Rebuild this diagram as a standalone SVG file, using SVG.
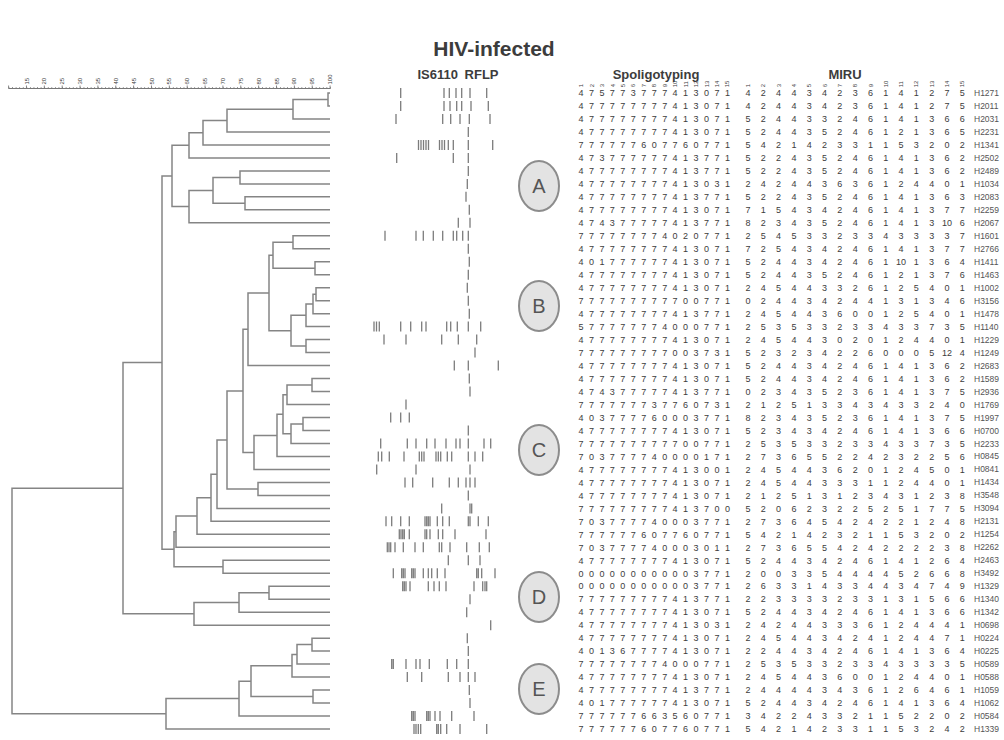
<svg xmlns="http://www.w3.org/2000/svg" width="1004" height="740" viewBox="0 0 1004 740">
<style>
text{font-family:"Liberation Sans",Arial,sans-serif;fill:#3c3c3c}
.title{font-size:21px;font-weight:bold;text-anchor:middle}
.hdr{font-size:13px;font-weight:bold;text-anchor:middle}
.sp{font-size:9px;letter-spacing:1.475px}
.mi{font-size:9px;letter-spacing:3.9px}
.id{font-size:8.5px;fill:#555}
.tick{font-size:6px;fill:#555}
.br{fill:none;stroke:#858585;stroke-width:1.5}
.band{fill:none;stroke:#7c7c7c;stroke-width:1.3}
.cl ellipse{fill:#e3e3e3;stroke:#8c8c8c;stroke-width:2}
.cl text{font-size:20px;text-anchor:middle;fill:#555}
</style>
<defs>
<pattern id="minor" x="8.5" y="0" width="3.572" height="20" patternUnits="userSpaceOnUse"><rect x="0" y="0" width="0.7" height="20" fill="#777"/></pattern>
<pattern id="major" x="8.1" y="0" width="17.86" height="20" patternUnits="userSpaceOnUse"><rect x="0" y="0" width="0.9" height="20" fill="#777"/></pattern>
</defs>
<rect width="1004" height="740" fill="#fff"/>
<text class="title" x="494" y="56">HIV-infected</text>
<g id="headers">
<text class="hdr" x="458" y="79" word-spacing="3">IS6110 RFLP</text>
<text class="hdr" x="656" y="79">Spoligotyping</text>
<text class="hdr" x="845" y="79">MIRU</text>
</g>
<g id="scale">
<line x1="8.5" y1="88.5" x2="330.5" y2="88.5" stroke="#777" stroke-width="1"/>
<rect x="8" y="87" width="323" height="1.5" fill="url(#minor)"/>
<rect x="8" y="85.5" width="323" height="3" fill="url(#major)"/>
<g class="tick">
<text transform="translate(28.5,84.5) rotate(-90)">15</text>
<text transform="translate(46.3,84.5) rotate(-90)">20</text>
<text transform="translate(64.2,84.5) rotate(-90)">25</text>
<text transform="translate(82.1,84.5) rotate(-90)">30</text>
<text transform="translate(99.9,84.5) rotate(-90)">35</text>
<text transform="translate(117.8,84.5) rotate(-90)">40</text>
<text transform="translate(135.6,84.5) rotate(-90)">45</text>
<text transform="translate(153.5,84.5) rotate(-90)">50</text>
<text transform="translate(171.4,84.5) rotate(-90)">55</text>
<text transform="translate(189.2,84.5) rotate(-90)">60</text>
<text transform="translate(207.1,84.5) rotate(-90)">65</text>
<text transform="translate(224.9,84.5) rotate(-90)">70</text>
<text transform="translate(242.8,84.5) rotate(-90)">75</text>
<text transform="translate(260.7,84.5) rotate(-90)">80</text>
<text transform="translate(278.5,84.5) rotate(-90)">85</text>
<text transform="translate(296.4,84.5) rotate(-90)">90</text>
<text transform="translate(314.2,84.5) rotate(-90)">95</text>
<text transform="translate(332.1,84.5) rotate(-90)">100</text>
</g>
</g>
<g id="col-numbers" class="tick">
<text transform="translate(583.1,87.3) rotate(-90)">1</text>
<text transform="translate(593.6,87.3) rotate(-90)">2</text>
<text transform="translate(604,87.3) rotate(-90)">3</text>
<text transform="translate(614.5,87.3) rotate(-90)">4</text>
<text transform="translate(624.9,87.3) rotate(-90)">5</text>
<text transform="translate(635.4,87.3) rotate(-90)">6</text>
<text transform="translate(645.8,87.3) rotate(-90)">7</text>
<text transform="translate(656.3,87.3) rotate(-90)">8</text>
<text transform="translate(666.7,87.3) rotate(-90)">9</text>
<text transform="translate(677.2,87.3) rotate(-90)">10</text>
<text transform="translate(687.6,87.3) rotate(-90)">11</text>
<text transform="translate(698.1,87.3) rotate(-90)">12</text>
<text transform="translate(708.5,87.3) rotate(-90)">13</text>
<text transform="translate(719,87.3) rotate(-90)">14</text>
<text transform="translate(729.4,87.3) rotate(-90)">15</text>
<text transform="translate(750.1,87.3) rotate(-90)">1</text>
<text transform="translate(765.4,87.3) rotate(-90)">2</text>
<text transform="translate(780.7,87.3) rotate(-90)">3</text>
<text transform="translate(796,87.3) rotate(-90)">4</text>
<text transform="translate(811.3,87.3) rotate(-90)">5</text>
<text transform="translate(826.6,87.3) rotate(-90)">6</text>
<text transform="translate(841.9,87.3) rotate(-90)">7</text>
<text transform="translate(857.2,87.3) rotate(-90)">8</text>
<text transform="translate(872.5,87.3) rotate(-90)">9</text>
<text transform="translate(887.8,87.3) rotate(-90)">10</text>
<text transform="translate(903.1,87.3) rotate(-90)">11</text>
<text transform="translate(918.4,87.3) rotate(-90)">12</text>
<text transform="translate(933.7,87.3) rotate(-90)">13</text>
<text transform="translate(949,87.3) rotate(-90)">14</text>
<text transform="translate(964.3,87.3) rotate(-90)">15</text>
</g>
<g id="dendrogram" class="br">
<path d="M330 93H328V106H330"/>
<path d="M328 99.5H293V119H330"/>
<path d="M293 109.3H227V131.9H330"/>
<path d="M227 120.6H203V144.9H330"/>
<path d="M203 132.8H189V157.9H330"/>
<path d="M330 170.9H240V183.9H330"/>
<path d="M330 196.8H245V209.8H330"/>
<path d="M240 177.4H213V203.3H245"/>
<path d="M213 190.4H189V222.8H330"/>
<path d="M189 145.3H172V206.6H189"/>
<path d="M330 235.8H293V248.8H330"/>
<path d="M330 261.7H315V274.7H330"/>
<path d="M293 242.3H273V268.2H315"/>
<path d="M330 287.7H316V300.7H330"/>
<path d="M316 294.2H313V313.7H330"/>
<path d="M313 303.9H306V326.6H330"/>
<path d="M330 339.6H306V352.6H330"/>
<path d="M306 315.3H291V346.1H306"/>
<path d="M273 255.3H269V330.7H291"/>
<path d="M269 293H248V365.6H330"/>
<path d="M330 378.6H312V391.5H330"/>
<path d="M312 385.1H287V404.5H330"/>
<path d="M330 417.5H303V430.5H330"/>
<path d="M303 424H291V443.5H330"/>
<path d="M287 394.8H283V433.8H291"/>
<path d="M283 414.3H277V456.4H330"/>
<path d="M277 435.4H254V469.4H330"/>
<path d="M248 329.3H243V452.4H254"/>
<path d="M330 482.4H258V495.4H330"/>
<path d="M243 390.9H227V488.9H258"/>
<path d="M227 439.9H217V508.4H330"/>
<path d="M217 474.2H211V521.3H330"/>
<path d="M211 497.8H197V534.3H330"/>
<path d="M197 516H176V547.3H330"/>
<path d="M330 560.3H223V573.3H330"/>
<path d="M176 531.7H174V566.8H223"/>
<path d="M172 176H162V549.2H174"/>
<path d="M330 586.2H269V599.2H330"/>
<path d="M269 592.7H239V612.2H330"/>
<path d="M239 602.5H194V625.2H330"/>
<path d="M162 362.6H123V613.8H194"/>
<path d="M330 638.2H312V651.1H330"/>
<path d="M312 644.6H297V664.1H330"/>
<path d="M297 654.4H292V677.1H330"/>
<path d="M330 690.1H313V703.1H330"/>
<path d="M292 665.7H251V696.6H313"/>
<path d="M251 681.2H239V716H330"/>
<path d="M239 698.6H166V729H330"/>
<path d="M123 488.2H12V713.8H166"/>
</g>
<g id="clusters" class="cl">
<g id="cluster-A"><ellipse cx="539" cy="186" rx="20" ry="25"/><text x="539" y="193">A</text></g>
<g id="cluster-B"><ellipse cx="539" cy="306" rx="20" ry="25"/><text x="539" y="313">B</text></g>
<g id="cluster-C"><ellipse cx="539" cy="450" rx="20" ry="25"/><text x="539" y="457">C</text></g>
<g id="cluster-D"><ellipse cx="539" cy="597" rx="20" ry="25"/><text x="539" y="604">D</text></g>
<g id="cluster-E"><ellipse cx="539" cy="689" rx="20" ry="25"/><text x="539" y="696">E</text></g>
</g>
<g id="rows">
<g id="H1271" transform="translate(0,93)"><path class="band" d="M400.7-5v10M444-5v10M449.3-5v10M456-5v10M461.7-5v10M470-5v10M486.7-5v10"/><text class="sp" x="578.5" y="3.2">4 7 5 7 7 3 7 7 7 4 1 3 0 7 1</text><text class="mi" x="745.5" y="3.2">4 2 4 4 3 4 2 3 6 1 4 1 2 7 5</text><text class="id" x="974" y="3">H1271</text></g>
<g id="H2011" transform="translate(0,106)"><path class="band" d="M400.7-5v10M444-5v10M450-5v10M456.7-5v10M461.7-5v10M471-5v10M488.3-5v10"/><text class="sp" x="578.5" y="3.2">4 7 7 7 7 7 7 7 7 4 1 3 0 7 1</text><text class="mi" x="745.5" y="3.2">4 2 4 4 3 4 2 3 6 1 4 1 2 7 5</text><text class="id" x="974" y="3">H2011</text></g>
<g id="H2031" transform="translate(0,119)"><path class="band" d="M396-5v10M442.7-5v10M450.7-5v10M460-5v10M469.3-5v10M490-5v10"/><text class="sp" x="578.5" y="3.2">4 7 7 7 7 7 7 7 7 4 1 3 0 7 1</text><text class="mi" x="745.5" y="3.2">5 2 4 4 3 3 2 4 6 1 4 1 3 6 6</text><text class="id" x="974" y="3">H2031</text></g>
<g id="H2231" transform="translate(0,131.9)"><path class="band" d="M468.3-5v10"/><text class="sp" x="578.5" y="3.2">4 7 7 7 7 7 7 7 7 4 1 3 0 7 1</text><text class="mi" x="745.5" y="3.2">5 2 4 4 3 5 2 4 6 1 2 1 3 6 5</text><text class="id" x="974" y="3">H2231</text></g>
<g id="H1341" transform="translate(0,144.9)"><path class="band" d="M418.5-5v10M421-5v10M423.5-5v10M426-5v10M428.5-5v10M439.5-5v10M442-5v10M444.5-5v10M448.3-5v10M453.3-5v10M468.3-5v10M492.7-5v10"/><text class="sp" x="578.5" y="3.2">7 7 7 7 7 7 6 0 7 7 6 0 7 7 1</text><text class="mi" x="745.5" y="3.2">5 4 2 1 4 2 3 3 1 1 5 3 2 0 2</text><text class="id" x="974" y="3">H1341</text></g>
<g id="H2502" transform="translate(0,157.9)"><path class="band" d="M396.7-5v10M453.3-5v10M468.3-5v10"/><text class="sp" x="578.5" y="3.2">4 7 3 7 7 7 7 7 7 4 1 3 7 7 1</text><text class="mi" x="745.5" y="3.2">5 2 2 4 3 5 2 4 6 1 4 1 3 6 2</text><text class="id" x="974" y="3">H2502</text></g>
<g id="H2489" transform="translate(0,170.9)"><path class="band" d="M468.3-5v10"/><text class="sp" x="578.5" y="3.2">4 7 7 7 7 7 7 7 7 4 1 3 7 7 1</text><text class="mi" x="745.5" y="3.2">5 2 2 4 3 5 2 4 6 1 4 1 3 6 2</text><text class="id" x="974" y="3">H2489</text></g>
<g id="H1034" transform="translate(0,183.9)"><path class="band" d="M467.3-5v10"/><text class="sp" x="578.5" y="3.2">4 7 7 7 7 7 7 7 7 4 1 3 0 3 1</text><text class="mi" x="745.5" y="3.2">2 4 2 4 4 3 6 3 6 1 2 4 4 0 1</text><text class="id" x="974" y="3">H1034</text></g>
<g id="H2083" transform="translate(0,196.8)"><path class="band" d="M466-5v10"/><text class="sp" x="578.5" y="3.2">4 7 7 7 7 7 7 7 7 4 1 3 7 7 1</text><text class="mi" x="745.5" y="3.2">5 2 2 4 3 5 2 4 6 1 4 1 3 6 3</text><text class="id" x="974" y="3">H2083</text></g>
<g id="H2259" transform="translate(0,209.8)"><path class="band" d="M469.3-5v10"/><text class="sp" x="578.5" y="3.2">4 7 7 7 7 7 7 7 7 4 1 3 0 7 1</text><text class="mi" x="745.5" y="3.2">7 1 5 4 3 4 2 4 6 1 4 1 3 7 7</text><text class="id" x="974" y="3">H2259</text></g>
<g id="H2067" transform="translate(0,222.8)"><path class="band" d="M458.3-5v10M470-5v10"/><text class="sp" x="578.5" y="3.2">4 7 4 3 7 7 7 7 7 4 1 3 7 7 1</text><text class="mi" x="745.5" y="3.2">8 2 3 4 3 5 2 4 6 1 4 1 3<tspan x="939.4" style="letter-spacing:0"> 10</tspan><tspan x="953.3"> 6</tspan></text><text class="id" x="974" y="3">H2067</text></g>
<g id="H1601" transform="translate(0,235.8)"><path class="band" d="M385-5v10M416-5v10M423.3-5v10M433.3-5v10M442.7-5v10M453.3-5v10M456.7-5v10M462.7-5v10M468.3-5v10"/><text class="sp" x="578.5" y="3.2">7 7 7 7 7 7 7 7 4 0 2 0 7 7 1</text><text class="mi" x="745.5" y="3.2">2 5 4 5 3 3 2 3 3 4 3 3 3 3 7</text><text class="id" x="974" y="3">H1601</text></g>
<g id="H2766" transform="translate(0,248.8)"><path class="band" d="M468.3-5v10"/><text class="sp" x="578.5" y="3.2">4 7 7 7 7 7 7 7 7 4 1 3 0 7 1</text><text class="mi" x="745.5" y="3.2">7 2 5 4 3 4 2 4 6 1 4 1 3 7 7</text><text class="id" x="974" y="3">H2766</text></g>
<g id="H1411" transform="translate(0,261.7)"><path class="band" d="M469.3-5v10"/><text class="sp" x="578.5" y="3.2">4 0 1 7 7 7 7 7 7 4 1 3 0 7 1</text><text class="mi" x="745.5" y="3.2">5 2 4 4 3 4 2 4 6 1<tspan x="893.5" style="letter-spacing:0"> 10</tspan><tspan x="907.4"> 1 3 6 4</tspan></text><text class="id" x="974" y="3">H1411</text></g>
<g id="H1463" transform="translate(0,274.7)"><path class="band" d="M468.3-5v10"/><text class="sp" x="578.5" y="3.2">4 7 7 7 7 7 7 7 7 4 1 3 0 7 1</text><text class="mi" x="745.5" y="3.2">5 2 4 4 3 5 2 4 6 1 2 1 3 7 6</text><text class="id" x="974" y="3">H1463</text></g>
<g id="H1002" transform="translate(0,287.7)"><path class="band" d="M467.3-5v10"/><text class="sp" x="578.5" y="3.2">4 7 7 7 7 7 7 7 7 4 1 3 0 7 1</text><text class="mi" x="745.5" y="3.2">2 4 5 4 4 3 3 2 6 1 2 5 4 0 1</text><text class="id" x="974" y="3">H1002</text></g>
<g id="H3156" transform="translate(0,300.7)"><path class="band" d="M468.3-5v10"/><text class="sp" x="578.5" y="3.2">7 7 7 7 7 7 7 7 7 7 0 0 7 7 1</text><text class="mi" x="745.5" y="3.2">0 2 4 4 3 4 2 4 4 1 3 1 3 4 6</text><text class="id" x="974" y="3">H3156</text></g>
<g id="H1478" transform="translate(0,313.7)"><path class="band" d="M469.3-5v10"/><text class="sp" x="578.5" y="3.2">4 7 7 7 7 7 7 7 7 4 1 3 7 7 1</text><text class="mi" x="745.5" y="3.2">2 4 5 4 4 3 6 0 0 1 2 5 4 0 1</text><text class="id" x="974" y="3">H1478</text></g>
<g id="H1140" transform="translate(0,326.6)"><path class="band" d="M374-5v10M376.5-5v10M379.3-5v10M400.7-5v10M410.7-5v10M421.7-5v10M426-5v10M446.7-5v10M450.7-5v10M457.3-5v10M468.3-5v10M480.7-5v10"/><text class="sp" x="578.5" y="3.2">5 7 7 7 7 7 7 7 4 0 0 0 7 7 1</text><text class="mi" x="745.5" y="3.2">2 5 3 5 3 3 2 3 3 4 3 3 7 3 5</text><text class="id" x="974" y="3">H1140</text></g>
<g id="H1229" transform="translate(0,339.6)"><path class="band" d="M384-5v10M406-5v10M441.7-5v10M458.3-5v10M476.7-5v10"/><text class="sp" x="578.5" y="3.2">4 7 7 7 7 7 7 7 7 4 1 3 0 7 1</text><text class="mi" x="745.5" y="3.2">2 4 5 4 4 3 0 2 0 1 2 4 4 0 1</text><text class="id" x="974" y="3">H1229</text></g>
<g id="H1249" transform="translate(0,352.6)"><path class="band" d="M475-5v10"/><text class="sp" x="578.5" y="3.2">7 7 7 7 7 7 7 7 7 0 0 3 7 3 1</text><text class="mi" x="745.5" y="3.2">5 2 3 2 3 4 2 2 6 0 0 0 5<tspan x="939.4" style="letter-spacing:0"> 12</tspan><tspan x="953.3"> 4</tspan></text><text class="id" x="974" y="3">H1249</text></g>
<g id="H2683" transform="translate(0,365.6)"><path class="band" d="M454.3-5v10M468.3-5v10M498.3-5v10"/><text class="sp" x="578.5" y="3.2">4 7 7 7 7 7 7 7 7 4 1 3 0 7 1</text><text class="mi" x="745.5" y="3.2">5 2 4 4 3 4 2 4 6 1 4 1 3 6 2</text><text class="id" x="974" y="3">H2683</text></g>
<g id="H1589" transform="translate(0,378.6)"><path class="band" d="M469.3-5v10"/><text class="sp" x="578.5" y="3.2">4 7 7 7 7 7 7 7 7 4 1 3 0 7 1</text><text class="mi" x="745.5" y="3.2">5 2 4 4 3 4 2 4 6 1 4 1 3 6 2</text><text class="id" x="974" y="3">H1589</text></g>
<g id="H2936" transform="translate(0,391.5)"><path class="band" d="M470-5v10"/><text class="sp" x="578.5" y="3.2">4 7 4 3 7 7 7 7 7 4 1 3 7 7 1</text><text class="mi" x="745.5" y="3.2">0 2 3 4 3 5 2 3 6 1 4 1 3 7 5</text><text class="id" x="974" y="3">H2936</text></g>
<g id="H1769" transform="translate(0,404.5)"><path class="band" d="M406-5v10"/><text class="sp" x="578.5" y="3.2">7 7 7 7 7 7 7 3 7 7 6 0 7 3 1</text><text class="mi" x="745.5" y="3.2">2 1 2 5 1 3 3 4 3 4 3 3 2 4 0</text><text class="id" x="974" y="3">H1769</text></g>
<g id="H1997" transform="translate(0,417.5)"><path class="band" d="M390.7-5v10M400.7-5v10M409.3-5v10"/><text class="sp" x="578.5" y="3.2">4 0 3 7 7 7 7 6 0 0 0 3 7 7 1</text><text class="mi" x="745.5" y="3.2">8 2 3 4 3 5 2 3 6 1 4 1 3 7 5</text><text class="id" x="974" y="3">H1997</text></g>
<g id="H0700" transform="translate(0,430.5)"><path class="band" d="M468.3-5v10"/><text class="sp" x="578.5" y="3.2">4 7 7 7 7 7 7 7 7 4 1 3 0 7 1</text><text class="mi" x="745.5" y="3.2">5 2 3 4 3 4 2 4 6 1 4 1 3 6 6</text><text class="id" x="974" y="3">H0700</text></g>
<g id="H2233" transform="translate(0,443.5)"><path class="band" d="M380.7-5v10M407.3-5v10M416-5v10M426.7-5v10M435-5v10M446-5v10M456-5v10M460-5v10M468.3-5v10M484-5v10M490.7-5v10"/><text class="sp" x="578.5" y="3.2">7 7 7 7 7 7 7 7 7 7 0 0 7 7 1</text><text class="mi" x="745.5" y="3.2">2 5 3 5 3 3 2 3 3 4 3 3 7 3 5</text><text class="id" x="974" y="3">H2233</text></g>
<g id="H0845" transform="translate(0,456.4)"><path class="band" d="M378.3-5v10M381.7-5v10M389.3-5v10M404-5v10M419.3-5v10M421.7-5v10M424-5v10M436-5v10M438.3-5v10M440.7-5v10M447.3-5v10M451.7-5v10M468.3-5v10M475-5v10M482.7-5v10"/><text class="sp" x="578.5" y="3.2">7 0 3 7 7 7 7 4 0 0 0 0 1 7 1</text><text class="mi" x="745.5" y="3.2">2 7 3 6 5 5 2 2 4 2 3 2 2 5 6</text><text class="id" x="974" y="3">H0845</text></g>
<g id="H0841" transform="translate(0,469.4)"><path class="band" d="M376.7-5v10M416-5v10M470-5v10"/><text class="sp" x="578.5" y="3.2">4 7 7 7 7 7 7 7 7 4 1 3 0 0 1</text><text class="mi" x="745.5" y="3.2">2 4 5 4 4 3 6 2 0 1 2 4 5 0 1</text><text class="id" x="974" y="3">H0841</text></g>
<g id="H1434" transform="translate(0,482.4)"><path class="band" d="M405-5v10M412.7-5v10M432.7-5v10M449.3-5v10M458.3-5v10M466-5v10M470-5v10M475-5v10"/><text class="sp" x="578.5" y="3.2">4 7 7 7 7 7 7 7 7 4 1 3 0 7 1</text><text class="mi" x="745.5" y="3.2">2 4 5 4 4 3 3 3 1 1 2 4 4 0 1</text><text class="id" x="974" y="3">H1434</text></g>
<g id="H3548" transform="translate(0,495.4)"><path class="band" d="M468.3-5v10"/><text class="sp" x="578.5" y="3.2">4 7 7 7 7 7 7 7 7 4 1 3 0 7 1</text><text class="mi" x="745.5" y="3.2">2 1 2 5 1 3 1 2 3 4 3 1 2 3 8</text><text class="id" x="974" y="3">H3548</text></g>
<g id="H3094" transform="translate(0,508.4)"><path class="band" d="M441.7-5v10M470-5v10M471.7-5v10"/><text class="sp" x="578.5" y="3.2">7 7 7 7 7 7 7 7 7 4 1 3 7 0 0</text><text class="mi" x="745.5" y="3.2">5 2 0 6 2 3 2 2 5 2 5 1 7 7 5</text><text class="id" x="974" y="3">H3094</text></g>
<g id="H2131" transform="translate(0,521.3)"><path class="band" d="M386-5v10M391.7-5v10M400.7-5v10M409.3-5v10M425-5v10M426.7-5v10M428.3-5v10M430-5v10M437.3-5v10M442.7-5v10M449.3-5v10M468.3-5v10M470-5v10M478.3-5v10M488.3-5v10"/><text class="sp" x="578.5" y="3.2">7 0 3 7 7 7 7 4 0 0 0 3 7 7 1</text><text class="mi" x="745.5" y="3.2">2 7 3 6 4 5 4 2 4 2 2 1 2 4 8</text><text class="id" x="974" y="3">H2131</text></g>
<g id="H1254" transform="translate(0,534.3)"><path class="band" d="M399.3-5v10M401-5v10M402.7-5v10M404.3-5v10M409.3-5v10M425-5v10M426.7-5v10M430-5v10M438.3-5v10M442.7-5v10M455-5v10M486-5v10"/><text class="sp" x="578.5" y="3.2">7 7 7 7 7 7 6 0 7 7 6 0 7 7 1</text><text class="mi" x="745.5" y="3.2">5 4 2 1 4 2 3 2 1 1 5 3 2 0 2</text><text class="id" x="974" y="3">H1254</text></g>
<g id="H2262" transform="translate(0,547.3)"><path class="band" d="M387.3-5v10M389-5v10M390.7-5v10M395-5v10M403.3-5v10M415-5v10M423.3-5v10M439.3-5v10M441.7-5v10M450-5v10M466.7-5v10M479.3-5v10M489.3-5v10"/><text class="sp" x="578.5" y="3.2">7 0 3 7 7 7 7 4 0 0 0 3 0 1 1</text><text class="mi" x="745.5" y="3.2">2 7 3 6 5 5 4 2 4 2 2 2 2 3 8</text><text class="id" x="974" y="3">H2262</text></g>
<g id="H2463" transform="translate(0,560.3)"><path class="band" d="M448.3-5v10M468.3-5v10M480-5v10"/><text class="sp" x="578.5" y="3.2">4 7 7 7 7 7 7 7 7 4 1 3 0 7 1</text><text class="mi" x="745.5" y="3.2">5 2 4 4 3 4 2 4 6 1 4 1 2 6 4</text><text class="id" x="974" y="3">H2463</text></g>
<g id="H3492" transform="translate(0,573.3)"><path class="band" d="M393.3-5v10M401.7-5v10M403.3-5v10M405-5v10M411.7-5v10M413.3-5v10M415-5v10M423.3-5v10M428.3-5v10M431.7-5v10M437.3-5v10M445-5v10M476.7-5v10M478.3-5v10M481.7-5v10M495-5v10"/><text class="sp" x="578.5" y="3.2">0 0 0 0 0 0 0 0 0 0 0 3 7 7 1</text><text class="mi" x="745.5" y="3.2">2 0 0 3 3 5 4 4 4 4 5 2 6 6 8</text><text class="id" x="974" y="3">H3492</text></g>
<g id="H1329" transform="translate(0,586.2)"><path class="band" d="M402.7-5v10M404.3-5v10M406-5v10M410-5v10M428.3-5v10M434-5v10M439.3-5v10M446-5v10M474-5v10M482.7-5v10M485-5v10M486.7-5v10"/><text class="sp" x="578.5" y="3.2">0 0 0 0 0 0 0 0 0 0 0 3 7 7 1</text><text class="mi" x="745.5" y="3.2">2 6 3 3 1 4 3 3 4 4 3 4 7 4 9</text><text class="id" x="974" y="3">H1329</text></g>
<g id="H1340" transform="translate(0,599.2)"><path class="band" d="M470-5v10"/><text class="sp" x="578.5" y="3.2">7 7 7 7 7 7 7 7 7 4 1 3 7 7 1</text><text class="mi" x="745.5" y="3.2">2 2 3 3 3 3 2 3 3 1 3 1 5 6 6</text><text class="id" x="974" y="3">H1340</text></g>
<g id="H1342" transform="translate(0,612.2)"><path class="band" d="M466.7-5v10"/><text class="sp" x="578.5" y="3.2">4 7 7 7 7 7 7 7 7 4 1 3 0 7 1</text><text class="mi" x="745.5" y="3.2">5 2 4 4 3 4 2 4 6 1 4 1 3 6 6</text><text class="id" x="974" y="3">H1342</text></g>
<g id="H0698" transform="translate(0,625.2)"><path class="band" d="M490.7-5v10"/><text class="sp" x="578.5" y="3.2">4 7 7 7 7 7 7 7 7 4 1 3 0 3 1</text><text class="mi" x="745.5" y="3.2">2 4 2 4 4 3 3 3 6 1 2 4 4 4 1</text><text class="id" x="974" y="3">H0698</text></g>
<g id="H0224" transform="translate(0,638.2)"><path class="band" d="M467.3-5v10"/><text class="sp" x="578.5" y="3.2">4 7 7 7 7 7 7 7 7 4 1 3 0 7 1</text><text class="mi" x="745.5" y="3.2">2 4 5 4 4 3 4 2 4 1 2 4 4 7 1</text><text class="id" x="974" y="3">H0224</text></g>
<g id="H0225" transform="translate(0,651.1)"><path class="band" d="M468.3-5v10"/><text class="sp" x="578.5" y="3.2">4 0 1 3 6 7 7 7 7 4 1 3 0 7 1</text><text class="mi" x="745.5" y="3.2">2 2 4 4 3 4 2 4 6 1 4 1 3 6 4</text><text class="id" x="974" y="3">H0225</text></g>
<g id="H0589" transform="translate(0,664.1)"><path class="band" d="M391.7-5v10M393.3-5v10M406-5v10M416-5v10M420-5v10M429.3-5v10M447.3-5v10M456.7-5v10M468.3-5v10"/><text class="sp" x="578.5" y="3.2">7 7 7 7 7 7 7 7 4 0 0 0 7 7 1</text><text class="mi" x="745.5" y="3.2">2 5 3 5 3 3 2 3 3 4 3 3 3 3 5</text><text class="id" x="974" y="3">H0589</text></g>
<g id="H0588" transform="translate(0,677.1)"><path class="band" d="M407.3-5v10M421.7-5v10M448.3-5v10M460-5v10M468.3-5v10M475-5v10"/><text class="sp" x="578.5" y="3.2">4 7 7 7 7 7 7 7 7 4 1 3 0 7 1</text><text class="mi" x="745.5" y="3.2">2 4 5 4 4 3 6 0 0 1 2 4 4 0 1</text><text class="id" x="974" y="3">H0588</text></g>
<g id="H1059" transform="translate(0,690.1)"><path class="band" d="M469.3-5v10"/><text class="sp" x="578.5" y="3.2">4 7 7 7 7 7 7 7 7 4 1 3 7 7 1</text><text class="mi" x="745.5" y="3.2">2 4 4 4 4 3 4 3 6 1 2 6 4 6 1</text><text class="id" x="974" y="3">H1059</text></g>
<g id="H1062" transform="translate(0,703.1)"><path class="band" d="M470-5v10"/><text class="sp" x="578.5" y="3.2">4 0 1 7 7 7 7 7 7 4 1 3 0 7 1</text><text class="mi" x="745.5" y="3.2">5 2 4 4 3 4 2 4 6 1 4 1 3 6 4</text><text class="id" x="974" y="3">H1062</text></g>
<g id="H0584" transform="translate(0,716)"><path class="band" d="M411.7-5v10M413.3-5v10M415-5v10M426.7-5v10M428.3-5v10M430-5v10M435-5v10M440-5v10M451.7-5v10M474-5v10"/><text class="sp" x="578.5" y="3.2">7 7 7 7 7 7 6 6 3 5 6 0 7 7 1</text><text class="mi" x="745.5" y="3.2">3 4 2 2 4 3 3 2 1 1 5 2 2 0 2</text><text class="id" x="974" y="3">H0584</text></g>
<g id="H1339" transform="translate(0,729)"><path class="band" d="M414-5v10M416-5v10M418.3-5v10M420.7-5v10M436.7-5v10M438.3-5v10M440.7-5v10M446.7-5v10M460-5v10M486.7-5v10"/><text class="sp" x="578.5" y="3.2">7 7 7 7 7 7 6 0 7 7 6 0 7 7 1</text><text class="mi" x="745.5" y="3.2">5 4 2 1 4 2 3 3 1 1 5 3 2 4 2</text><text class="id" x="974" y="3">H1339</text></g>
</g>
</svg>
